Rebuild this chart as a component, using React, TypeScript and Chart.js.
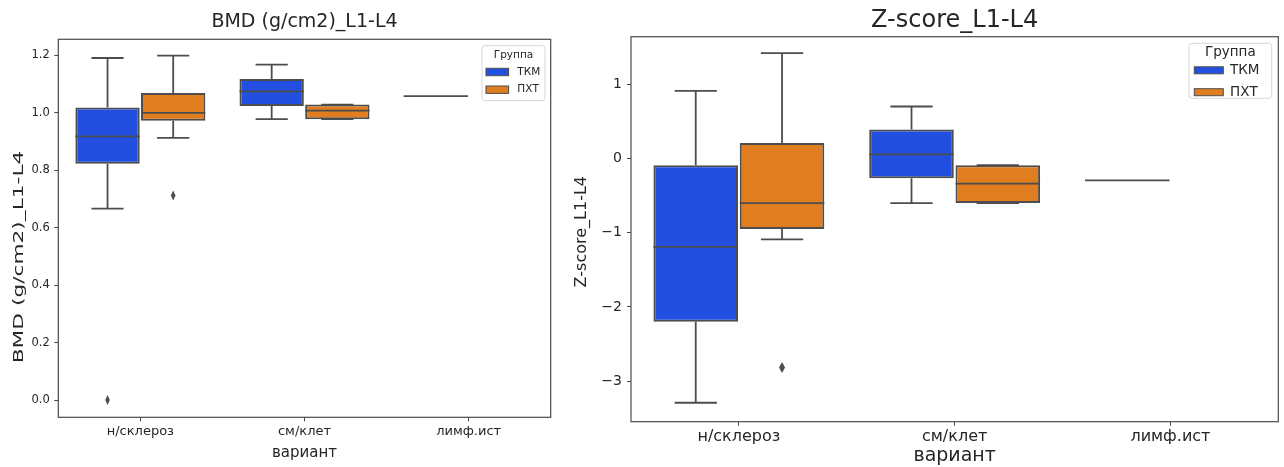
import React, { useEffect, useRef } from "react";
import { Chart, registerables } from "chart.js";

Chart.register(...registerables);

const FONT = "'DejaVu Sans', 'Liberation Sans', sans-serif";
const LINE_GRAY = "#4d4d4d";

// ---- shared categories / groups ----
const categories = ["н/склероз", "см/клет", "лимф.ист"];
const groups = ["ТКМ", "ПХТ"];
const groupColors = ["#224fdf", "#df7d20"];
const legendTitle = "Группа";
const xTitle = "вариант";

// ---- BMD (g/cm2)_L1-L4 : [whiskerLow, Q1, median, Q3, whiskerHigh] ----
const bmdTKM = [
  [0.666, 0.822, 0.917, 1.018, 1.19],
  [0.977, 1.023, 1.074, 1.117, 1.167],
  [1.057, 1.057, 1.057, 1.057, 1.057],
];
const bmdPXT = [
  [0.912, 0.972, 0.999, 1.068, 1.198],
  [0.977, 0.977, 1.007, 1.028, 1.028],
  null,
];
const bmdOutTKM = [[0.0], [], []];
const bmdOutPXT = [[0.712], [], []];
const bmdTicks = [0, 0.2, 0.4, 0.6, 0.8, 1.0, 1.2];
const bmdTickLabels = ["0.0", "0.2", "0.4", "0.6", "0.8", "1.0", "1.2"];
const bmdMin = -0.06;
const bmdMax = 1.255;

// ---- Z-score_L1-L4 ----
const zTKM = [
  [-3.29, -2.2, -1.19, -0.09, 0.91],
  [-0.6, -0.265, 0.054, 0.39, 0.7],
  [-0.296, -0.296, -0.296, -0.296, -0.296],
];
const zPXT = [
  [-1.09, -0.95, -0.6, 0.21, 1.42],
  [-0.6, -0.6, -0.34, -0.09, -0.09],
  null,
];
const zOutTKM = [[], [], []];
const zOutPXT = [[-2.815], [], []];
const zTicks = [-3, -2, -1, 0, 1];
const zTickLabels = ["\u22123", "\u22122", "\u22121", "0", "1"];
const zMin = -3.545;
const zMax = 1.64;

// ---------------- plugins ----------------
const boxPlugin = {
  id: "boxWhiskers",
  afterDatasetsDraw(chart: any, _a: any, opts: any) {
    const ctx = chart.ctx;
    const ys = chart.scales.y;
    ctx.save();
    ctx.strokeStyle = LINE_GRAY;
    ctx.lineWidth = opts.lineWidth || 1.5;
    chart.data.datasets.forEach((ds: any, di: number) => {
      const meta = chart.getDatasetMeta(di);
      meta.data.forEach((el: any, i: number) => {
        const s = ds.boxStats[i];
        if (!s) return;
        const x = el.x;
        const w = el.width;
        const [lo, q1, med, q3, hi] = s.map((v: number) => ys.getPixelForValue(v));
        ctx.beginPath();
        ctx.moveTo(x, q1);
        ctx.lineTo(x, lo);
        ctx.moveTo(x, q3);
        ctx.lineTo(x, hi);
        ctx.moveTo(x - w / 4, lo);
        ctx.lineTo(x + w / 4, lo);
        ctx.moveTo(x - w / 4, hi);
        ctx.lineTo(x + w / 4, hi);
        ctx.moveTo(x - w / 2, med);
        ctx.lineTo(x + w / 2, med);
        ctx.stroke();
        const outs = ds.outliers[i] || [];
        ctx.fillStyle = LINE_GRAY;
        outs.forEach((v: number) => {
          const py = ys.getPixelForValue(v);
          const hw = opts.diamondW || 2.5;
          const hh = opts.diamondH || 5;
          ctx.beginPath();
          ctx.moveTo(x, py - hh);
          ctx.lineTo(x + hw, py);
          ctx.lineTo(x, py + hh);
          ctx.lineTo(x - hw, py);
          ctx.closePath();
          ctx.fill();
        });
      });
    });
    ctx.restore();
  },
};

const framePlugin = {
  id: "frame",
  afterDraw(chart: any, _a: any, opts: any) {
    const { left, top, right, bottom } = chart.chartArea;
    const ctx = chart.ctx;
    ctx.save();
    ctx.strokeStyle = opts.color || "#444";
    ctx.lineWidth = opts.lineWidth || 1.2;
    ctx.strokeRect(left, top, right - left, bottom - top);
    ctx.restore();
  },
};

function roundRect(ctx: any, x: number, y: number, w: number, h: number, r: number) {
  ctx.beginPath();
  ctx.moveTo(x + r, y);
  ctx.lineTo(x + w - r, y);
  ctx.quadraticCurveTo(x + w, y, x + w, y + r);
  ctx.lineTo(x + w, y + h - r);
  ctx.quadraticCurveTo(x + w, y + h, x + w - r, y + h);
  ctx.lineTo(x + r, y + h);
  ctx.quadraticCurveTo(x, y + h, x, y + h - r);
  ctx.lineTo(x, y + r);
  ctx.quadraticCurveTo(x, y, x + r, y);
  ctx.closePath();
}

const legendPlugin = {
  id: "boxLegend",
  afterDraw(chart: any, _a: any, o: any) {
    const ctx = chart.ctx;
    const ca = chart.chartArea;
    const bx = ca.right - o.right - o.w;
    const by = ca.top + o.top;
    ctx.save();
    roundRect(ctx, bx, by, o.w, o.h, 3);
    ctx.fillStyle = "rgba(255,255,255,0.9)";
    ctx.fill();
    ctx.strokeStyle = "#d6d6d6";
    ctx.lineWidth = 1;
    ctx.stroke();
    ctx.fillStyle = "#262626";
    ctx.textBaseline = "middle";
    ctx.textAlign = "center";
    ctx.font = `${o.fontSize}px ${FONT}`;
    ctx.fillText(o.title, bx + o.w / 2, by + o.titleDy);
    chart.data.datasets.forEach((ds: any, i: number) => {
      const cy = by + o.rowDy[i];
      ctx.fillStyle = ds.backgroundColor;
      ctx.fillRect(bx + o.patchX, cy - o.patchH / 2, o.patchW, o.patchH);
      ctx.strokeStyle = LINE_GRAY;
      ctx.lineWidth = 1;
      ctx.strokeRect(bx + o.patchX, cy - o.patchH / 2, o.patchW, o.patchH);
      ctx.fillStyle = "#262626";
      ctx.textAlign = "left";
      ctx.fillText(ds.label, bx + o.textX, cy);
    });
    ctx.restore();
  },
};

const yTitlePlugin = {
  id: "yTitle",
  afterDraw(chart: any, _a: any, o: any) {
    const ctx = chart.ctx;
    const ca = chart.chartArea;
    const cy = o.cy != null ? o.cy : (ca.top + ca.bottom) / 2;
    ctx.save();
    ctx.translate(o.x, cy);
    ctx.rotate(-Math.PI / 2);
    ctx.scale(o.stretch || 1, 1);
    ctx.font = `${o.size}px ${FONT}`;
    ctx.fillStyle = "#262626";
    ctx.textAlign = "center";
    ctx.textBaseline = "middle";
    ctx.fillText(o.text, 0, 0);
    ctx.restore();
  },
};

// ---------------- specs ----------------
type Spec = any;

const leftSpec: Spec = {
  width: 565,
  title: "BMD (g/cm2)_L1-L4",
  titleSize: 19,
  titlePad: { top: 11, bottom: 5.5 },
  padRight: 14.3,
  yWidth: 58.3,
  xHeight: 49.7,
  yTickSize: 11.5,
  yTickPad: 4.5,
  xTickSize: 13,
  xTickPad: 2.4,
  xTitleSize: 15,
  xTitleLH: "20px",
  xTitlePadBottom: 3.5,
  statsTKM: bmdTKM,
  statsPXT: bmdPXT,
  outTKM: bmdOutTKM,
  outPXT: bmdOutPXT,
  ticks: bmdTicks,
  tickLabels: bmdTickLabels,
  min: bmdMin,
  max: bmdMax,
  yTitle: { text: "BMD (g/cm2)_L1-L4", x: 19, cy: 257, size: 14, stretch: 1.55 },
  legend: {
    title: legendTitle,
    right: 5.7, top: 6.4, w: 63, h: 55,
    fontSize: 10.5, titleDy: 9.5, rowDy: [26.3, 44],
    patchX: 4, patchW: 22.6, patchH: 7.4, textX: 35.3,
  },
  diamondW: 2.3,
  diamondH: 5,
};

const rightSpec: Spec = {
  width: 719,
  title: "Z-score_L1-L4",
  titleSize: 24,
  titlePad: { top: 6.3, bottom: 1.6 },
  padRight: 5.7,
  yWidth: 66,
  xHeight: 45.3,
  yTickSize: 14,
  yTickPad: 5,
  xTickSize: 16,
  xTickPad: 1.5,
  xTitleSize: 19,
  xTitleLH: "20px",
  xTitlePadBottom: 1,
  statsTKM: zTKM,
  statsPXT: zPXT,
  outTKM: zOutTKM,
  outPXT: zOutPXT,
  ticks: zTicks,
  tickLabels: zTickLabels,
  min: zMin,
  max: zMax,
  yTitle: { text: "Z-score_L1-L4", x: 16.7, cy: 231.7, size: 16, stretch: 1 },
  legend: {
    title: legendTitle,
    right: 6.6, top: 6.6, w: 82.7, h: 55,
    fontSize: 13.5, titleDy: 9.4, rowDy: [27, 48.9],
    patchX: 5.3, patchW: 29, patchH: 7, textX: 41,
  },
  diamondW: 3,
  diamondH: 5.5,
};

function buildConfig(s: Spec): any {
  const mk = (i: number, stats: any[], outs: any[]) => ({
    type: "bar",
    label: groups[i],
    data: stats.map((st) => (st ? [st[1], st[3]] : null)),
    boxStats: stats,
    outliers: outs,
    backgroundColor: groupColors[i],
    borderColor: LINE_GRAY,
    borderWidth: 2,
    borderSkipped: false,
    categoryPercentage: 0.8,
    barPercentage: 0.98,
  });
  return {
    type: "bar",
    data: {
      labels: categories,
      datasets: [mk(0, s.statsTKM, s.outTKM), mk(1, s.statsPXT, s.outPXT)],
    },
    options: {
      animation: false,
      responsive: false,
      devicePixelRatio: 1,
      layout: { padding: { left: 0, right: s.padRight, top: 0, bottom: 0 } },
      events: [],
      scales: {
        x: {
          type: "category",
          offset: true,
          grid: {
            display: true,
            offset: false,
            drawOnChartArea: false,
            drawTicks: true,
            tickLength: 4,
            tickWidth: 1,
            tickColor: "#444",
          },
          border: { display: false },
          ticks: {
            font: { size: s.xTickSize, family: FONT },
            color: "#262626",
            padding: s.xTickPad,
            maxRotation: 0,
            autoSkip: false,
          },
          title: {
            display: true,
            text: xTitle,
            color: "#262626",
            font: { size: s.xTitleSize, family: FONT, lineHeight: s.xTitleLH },
            padding: { top: 0, bottom: s.xTitlePadBottom },
          },
          afterFit: (sc: any) => {
            sc.height = s.xHeight;
          },
        },
        y: {
          type: "linear",
          min: s.min,
          max: s.max,
          grid: {
            display: true,
            drawOnChartArea: false,
            drawTicks: true,
            tickLength: 4,
            tickWidth: 1,
            tickColor: "#444",
          },
          border: { display: false },
          ticks: {
            font: { size: s.yTickSize, family: FONT },
            color: "#262626",
            padding: s.yTickPad,
            callback: (_v: any, i: number) => s.tickLabels[i],
          },
          afterBuildTicks: (sc: any) => {
            sc.ticks = s.ticks.map((v: number) => ({ value: v }));
          },
          afterFit: (sc: any) => {
            sc.width = s.yWidth;
          },
        },
      },
      plugins: {
        legend: { display: false },
        tooltip: { enabled: false },
        title: {
          display: true,
          text: s.title,
          fullSize: false,
          color: "#262626",
          font: { size: s.titleSize, family: FONT, weight: "normal", lineHeight: 1.2 },
          padding: s.titlePad,
        },
        boxWhiskers: { lineWidth: 1.8, diamondW: s.diamondW, diamondH: s.diamondH },
        frame: { color: "#4a4a4a", lineWidth: 1.2 },
        boxLegend: s.legend,
        yTitle: s.yTitle,
      },
    },
    plugins: [boxPlugin, framePlugin, legendPlugin, yTitlePlugin],
  };
}

function BoxChart({ spec, left }: { spec: Spec; left: number }) {
  const ref = useRef<HTMLCanvasElement | null>(null);
  useEffect(() => {
    if (!ref.current) return;
    const chart = new Chart(ref.current, buildConfig(spec));
    return () => chart.destroy();
  }, [spec]);
  return (
    <canvas
      ref={ref}
      width={spec.width}
      height={467}
      style={{ position: "absolute", left, top: 0, width: spec.width, height: 467 }}
    />
  );
}

export default function App() {
  return (
    <div
      style={{
        position: "fixed",
        left: 0,
        top: 0,
        width: 1284,
        height: 467,
        background: "#ffffff",
        overflow: "hidden",
      }}
    >
      <BoxChart spec={leftSpec} left={0} />
      <BoxChart spec={rightSpec} left={565} />
    </div>
  );
}
